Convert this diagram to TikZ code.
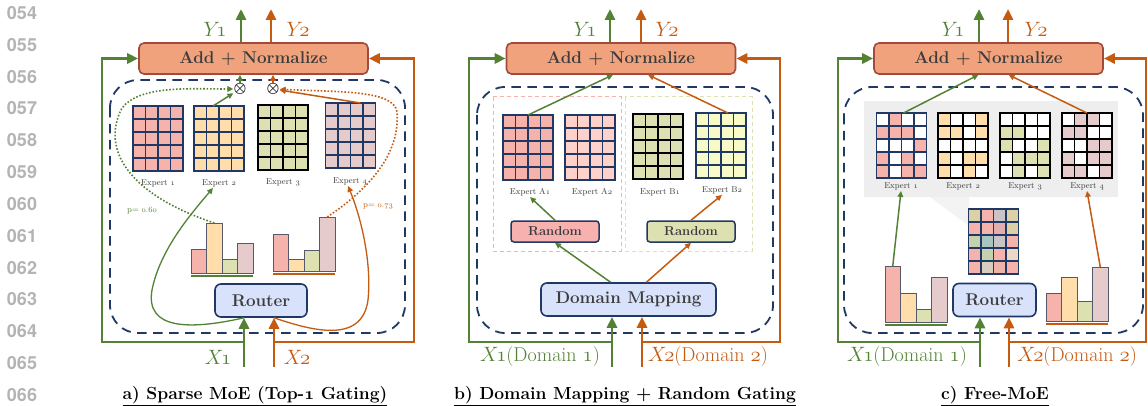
\documentclass[tikz,border=0pt]{standalone}
\usepackage{fontspec}
\usetikzlibrary{arrows.meta}
\newfontfamily\numfont{TeX Gyre Heros}

\definecolor{gr}{HTML}{548235}
\definecolor{og}{HTML}{C55A11}
\definecolor{navy}{HTML}{1F3864}
\definecolor{addfill}{HTML}{F0A27C}
\definecolor{adddraw}{HTML}{A34A3C}
\definecolor{routfill}{HTML}{D9E2FB}
\definecolor{txt}{HTML}{3C3C3C}
\definecolor{lnumgray}{HTML}{B4B4B4}
\definecolor{bargray}{HTML}{55596A}
\definecolor{epink}{HTML}{F5B3AC}
\definecolor{eorange}{HTML}{FFDEAC}
\definecolor{eolive}{HTML}{DDE1B2}
\definecolor{emauve}{HTML}{E6CBCD}
\definecolor{epinklt}{HTML}{FED2CA}
\definecolor{eyellow}{HTML}{F8FBC8}
\definecolor{rndpink}{HTML}{F7B2B0}
\definecolor{panelgray}{HTML}{EEEEEE}
\definecolor{mtan}{HTML}{DCD0A6}
\definecolor{mgray}{HTML}{C9C5C6}
\definecolor{mrose}{HTML}{E2AFAE}
\definecolor{mgreen}{HTML}{C6D2AD}
\definecolor{mteal}{HTML}{A9C3C0}
\definecolor{mbeige}{HTML}{ECD8C6}
\definecolor{mbeigegray}{HTML}{D8CCBE}
\definecolor{msalmon}{HTML}{EEB2A6}

\newcommand{\osf}[1]{$\mathnormal{#1}$}

\tikzset{
  addbox/.style={draw=adddraw, fill=addfill, line width=1.6pt, rounded corners=5pt,
    minimum width=229pt, minimum height=31pt, inner sep=0pt, text=txt,
    font=\fontsize{17}{20}\selectfont\bfseries},
  routerbox/.style={draw=navy, fill=routfill, line width=1.6pt, rounded corners=6pt,
    minimum height=33pt, inner sep=0pt, text=txt, font=\fontsize{17}{20}\selectfont\bfseries},
  randbox/.style={draw=navy, line width=1.5pt, rounded corners=3pt, minimum width=88pt,
    minimum height=21pt, inner sep=0pt, text=txt, font=\fontsize{13}{15}\selectfont\bfseries},
  moebox/.style={draw=navy, line width=1.8pt, dash pattern=on 9.5pt off 6.5pt, rounded corners=28pt},
  expbox/.style={inner sep=0pt, outer sep=0pt, minimum width=50pt, minimum height=65pt},
  explabel/.style={inner sep=1pt, text=txt, font=\fontsize{8.5}{10}\selectfont},
  plabel/.style={inner sep=1pt, font=\fontsize{8.5}{10}\selectfont},
  barbox/.style={draw=bargray, line width=0.9pt, inner sep=0pt, outer sep=0pt, minimum width=15.5pt},
  otimes/.style={inner sep=0pt, font=\fontsize{15}{15}\selectfont\boldmath},
  res/.style={->, >={Triangle[length=11pt, width=10pt]}, line width=2.8pt},
  link/.style={->, >={Triangle[length=6pt, width=5.5pt]}, line width=1.5pt},
  dots/.style={->, >={Triangle[length=6pt, width=5.5pt]}, line width=1.6pt, dash pattern=on 1.6pt off 1.8pt},
  io/.style={inner sep=0pt, font=\fontsize{20}{22}\selectfont},
  title/.style={inner sep=0pt, font=\fontsize{17.5}{20}\selectfont\bfseries},
  lnum/.style={inner sep=0pt, text=lnumgray, font=\numfont\fontsize{18}{20}\selectfont\bfseries}
}

\newcommand{\expgrid}[4]{%
  \node[expbox, fill=#4] (#1) at (#2,#3) {};}
\newcommand{\gridcells}[3]{%
  \foreach \col/\row in {#3}
    \fill[#2] ([xshift={(\col-1)*12.5pt}, yshift={-(\row-1)*13pt}]#1.north west)
      rectangle ([xshift={\col*12.5pt}, yshift={-\row*13pt}]#1.north west);}
\newcommand{\gridlines}[2]{%
  \foreach \i in {1,2,3}
    \draw[#2, line width=1.3pt] ([xshift=\i*12.5pt]#1.north west) -- ([xshift=\i*12.5pt]#1.south west);
  \foreach \j in {1,...,4}
    \draw[#2, line width=1.3pt] ([yshift=-\j*13pt]#1.north west) -- ([yshift=-\j*13pt]#1.north east);
  \draw[#2, line width=1.3pt] (#1.north west) rectangle (#1.south east);}
\newcommand{\barchart}[8]{%
  \node[barbox, fill=epink, minimum height=#4pt, anchor=south west] (#1a) at (#2,#3) {};
  \node[barbox, fill=eorange, minimum height=#5pt, anchor=south west] (#1b) at (#1a.south east) {};
  \node[barbox, fill=eolive, minimum height=#6pt, anchor=south west] (#1c) at (#1b.south east) {};
  \node[barbox, fill=emauve, minimum height=#7pt, anchor=south west] (#1d) at (#1c.south east) {};
  \draw[#8, line width=2.6pt] ([yshift=-3pt]#1a.south west) -- ([yshift=-3pt]#1d.south east);}

\begin{document}
\begin{tikzpicture}[x=1pt, y=-1pt]
  \useasboundingbox[fill=white] (0,0) rectangle (1148,406);

  \foreach \n [count=\k from 0] in {054,055,056,057,058,059,060,061,062,063,064,065,066}
    \node[lnum] (ln\n) at (22,{13+\k*31.83}) {\n};

  % a) sparse MoE
  \node[addbox] (addA) at (253.5,58.5) {Add + Normalize};
  \draw[moebox] (110,80) rectangle (405,333);
  \expgrid{gA1}{158}{138.5}{epink}\gridlines{gA1}{navy}
  \expgrid{gA2}{219}{138.5}{eorange}\gridlines{gA2}{navy}
  \expgrid{gA3}{283}{137.5}{eolive}\gridlines{gA3}{black}
  \expgrid{gA4}{350.5}{135.5}{emauve}\gridlines{gA4}{navy}
  \node[explabel] (lA1) at (158,183) {Expert \osf{1}};
  \node[explabel] (lA2) at (219,183) {Expert \osf{2}};
  \node[explabel] (lA3) at (283,182) {Expert \osf{3}};
  \node[explabel] (lA4) at (350,181) {Expert \osf{4}};
  \node[otimes] (oA1) at (240,89) {$\otimes$};
  \node[otimes] (oA2) at (273,89) {$\otimes$};
  \barchart{bA1}{191}{273}{24}{50}{14}{30}{gr}
  \barchart{bA2}{273}{271}{37}{12}{21}{54}{og}
  \node[routerbox, minimum width=92pt] (routerA) at (261,300.5) {Router};
  \node[plabel, text=gr] (pA1) at (142,211) {p= \osf{0.60}};
  \node[plabel, text=og] (pA2) at (378,206) {p= \osf{0.73}};
  \coordinate (xA1) at (244,367);
  \coordinate (xA2) at (274,367);
  \coordinate (yA1) at (241,9);
  \coordinate (yA2) at (271,9);
  \draw[res, gr] (xA1) -- (xA1 |- routerA.south);
  \draw[res, og] (xA2) -- (xA2 |- routerA.south);
  \draw[res, gr] (xA1) ++(0,-25) -- (102,342) |- (addA.west);
  \draw[res, og] (xA2) ++(0,-25) -- (414,342) |- (addA.east);
  \draw[res, gr] (addA.north -| yA1) -- (yA1);
  \draw[res, og] (addA.north -| yA2) -- (yA2);
  \draw[link, gr] (oA1.north) -- (oA1 |- addA.south);
  \draw[link, og] (oA2.north) -- (oA2 |- addA.south);
  \draw[link, gr] ([xshift=-6pt]gA2.north) -- (oA1);
  \draw[link, og] ([xshift=10pt]gA4.north) -- (oA2);
  \draw[dots, gr] (bA1b.north) .. controls (130,195) and (100,150) .. (122,108)
    .. controls (140,85) and (190,89) .. (oA1);
  \draw[dots, og] (bA2d.north) .. controls (375,185) and (400,150) .. (397,112)
    .. controls (394,90) and (340,92) .. (oA2);
  \draw[link, gr, line width=1.3pt] (routerA.south -| xA1) .. controls (190,330) and (145,330) .. (152,290)
    .. controls (160,250) and (190,215) .. ([xshift=-6pt]lA2.south);
  \draw[link, og, line width=1.3pt] (routerA.south -| xA2) .. controls (310,330) and (362,345) .. (368,300)
    .. controls (372,260) and (360,215) .. ([xshift=-2pt]lA4.south);
  \node[io, text=gr] (tYA1) at (215,29) {$Y\mkern-3mu\mathnormal{1}$};
  \node[io, text=og] (tYA2) at (298,29) {$Y\mkern-3mu\mathnormal{2}$};
  \node[io, text=gr] (tXA1) at (218,357) {$X\mkern-2mu\mathnormal{1}$};
  \node[io, text=og] (tXA2) at (297,357) {$X\mkern-2mu\mathnormal{2}$};
  \node[title] (ttA) at (255,396) {\underline{a) Sparse MoE (Top-{\boldmath\osf{1}} Gating)}};

  % b) domain mapping
  \node[addbox] (addB) at (621,58.5) {Add + Normalize};
  \draw[moebox] (477,87) rectangle (773,333);
  \draw[epink, line width=1pt, dash pattern=on 4pt off 3pt] (493,97) rectangle (621,251);
  \draw[eolive, line width=1pt, dash pattern=on 4pt off 3pt] (625,97) rectangle (752,251);
  \expgrid{gB1}{528}{147.5}{epink}\gridlines{gB1}{navy}
  \expgrid{gB2}{590}{147.5}{epinklt}\gridlines{gB2}{navy}
  \expgrid{gB3}{658}{146.5}{eolive}\gridlines{gB3}{black}
  \expgrid{gB4}{721}{145.5}{eyellow}\gridlines{gB4}{navy}
  \node[explabel] (lB1) at (530,192) {Expert A\osf{1}};
  \node[explabel] (lB2) at (592,192) {Expert A\osf{2}};
  \node[explabel] (lB3) at (660,192) {Expert B\osf{1}};
  \node[explabel] (lB4) at (722,190) {Expert B\osf{2}};
  \node[randbox, fill=rndpink] (rndA) at (555,231.5) {Random};
  \node[randbox, fill=eolive] (rndB) at (691,231.5) {Random};
  \node[routerbox, minimum width=175pt] (mapB) at (628.5,299.5) {Domain Mapping};
  \coordinate (xB1) at (612,367);
  \coordinate (xB2) at (642,367);
  \coordinate (yB1) at (610,9);
  \coordinate (yB2) at (641,9);
  \draw[res, gr] (xB1) -- (xB1 |- mapB.south);
  \draw[res, og] (xB2) -- (xB2 |- mapB.south);
  \draw[res, gr] (xB1) ++(0,-25) -- (469,342) |- (addB.west);
  \draw[res, og] (xB2) ++(0,-25) -- (780,342) |- (addB.east);
  \draw[res, gr] (addB.north -| yB1) -- (yB1);
  \draw[res, og] (addB.north -| yB2) -- (yB2);
  \draw[link, gr] (gB1.north) -- ([xshift=-8pt]addB.south);
  \draw[link, og] ([xshift=7pt]gB4.north) -- ([xshift=27pt]addB.south);
  \draw[link, gr] (rndA.north) -- (lB1.south);
  \draw[link, og] (rndB.north) -- (lB4.south);
  \draw[link, gr] ([xshift=-18pt]mapB.north) -- (rndA.south);
  \draw[link, og] ([xshift=18pt]mapB.north) -- (rndB.south);
  \node[io, text=gr] (tYB1) at (585,29) {$Y\mkern-3mu\mathnormal{1}$};
  \node[io, text=og] (tYB2) at (667,29) {$Y\mkern-3mu\mathnormal{2}$};
  \node[io, text=gr] (tXB1) at (540,357) {$X\mkern-2mu\mathnormal{1}$(Domain \osf{1})};
  \node[io, text=og] (tXB2) at (708,357) {$X\mkern-2mu\mathnormal{2}$(Domain \osf{2})};
  \node[title] (ttB) at (625,396) {\underline{b) Domain Mapping + Random Gating}};

  % c) free MoE
  \node[addbox] (addC) at (988.5,58.5) {Add + Normalize};
  \draw[moebox] (844,87) rectangle (1143,333);
  \fill[panelgray] (864,101) rectangle (1118,197);
  \fill[panelgray!70] (930,197) -- (969,197) -- (969,226) -- cycle;
  \expgrid{gC1}{901.5}{145.5}{white}
  \gridcells{gC1}{epink}{2/1,1/2,2/2,3/2,4/3,1/4,3/4,1/5,3/5,4/5}
  \gridlines{gC1}{navy}
  \expgrid{gC2}{963}{145.5}{white}
  \gridcells{gC2}{eorange}{1/1,4/1,1/2,2/2,4/2,1/4,3/4,4/4,1/5,3/5}
  \gridlines{gC2}{black}
  \expgrid{gC3}{1025}{145.5}{white}
  \gridcells{gC3}{eolive}{1/2,2/2,1/3,4/3,2/4,3/4,4/4,2/5,4/5}
  \gridlines{gC3}{black}
  \expgrid{gC4}{1087}{145.5}{white}
  \gridcells{gC4}{emauve}{2/1,3/1,1/2,2/2,3/3,4/3,1/4,3/4,4/4,1/5,2/5,4/5}
  \gridlines{gC4}{black}
  \node[explabel] (lC1) at (901,186) {Expert \osf{1}};
  \node[explabel] (lC2) at (963,186) {Expert \osf{2}};
  \node[explabel] (lC3) at (1025,186) {Expert \osf{3}};
  \node[explabel] (lC4) at (1087,186) {Expert \osf{4}};
  \expgrid{gMix}{993.5}{241.5}{epink}
  \foreach \col/\row/\clr in {1/1/mtan,3/1/mgray,4/1/mtan,3/2/mrose,4/2/mtan,1/3/mgreen,2/3/mteal,
      3/3/mgray,2/4/mgreen,4/4/mbeige,2/5/mbeigegray,3/5/msalmon}
    \fill[\clr] ([xshift={(\col-1)*12.5pt}, yshift={-(\row-1)*13pt}]gMix.north west)
      rectangle ([xshift={\col*12.5pt}, yshift={-\row*13pt}]gMix.north west);
  \gridlines{gMix}{navy}
  \barchart{bC1}{885}{322}{56}{29}{13}{45}{gr}
  \barchart{bC2}{1046}{321}{28}{44}{20}{54}{og}
  \node[routerbox, minimum width=83pt] (routerC) at (994.5,300) {Router};
  \coordinate (xC1) at (980,367);
  \coordinate (xC2) at (1009,367);
  \coordinate (yC1) at (979,9);
  \coordinate (yC2) at (1008,9);
  \draw[res, gr] (xC1) -- (xC1 |- routerC.south);
  \draw[res, og] (xC2) -- (xC2 |- routerC.south);
  \draw[res, gr] (xC1) ++(0,-25) -- (838,342) |- (addC.west);
  \draw[res, og] (xC2) ++(0,-25) -- (1146,342) |- (addC.east);
  \draw[res, gr] (addC.north -| yC1) -- (yC1);
  \draw[res, og] (addC.north -| yC2) -- (yC2);
  \draw[link, gr] (bC1a.north) -- (lC1.south);
  \draw[link, og] (bC2d.north) -- (lC4.south);
  \draw[link, gr] ([xshift=2pt]gC1.north) -- ([xshift=-10pt]addC.south);
  \draw[link, og] (gC4.north) -- ([xshift=20pt]addC.south);
  \node[io, text=gr] (tYC1) at (953,29) {$Y\mkern-3mu\mathnormal{1}$};
  \node[io, text=og] (tYC2) at (1036,29) {$Y\mkern-3mu\mathnormal{2}$};
  \node[io, text=gr] (tXC1) at (907,357) {$X\mkern-2mu\mathnormal{1}$(Domain \osf{1})};
  \node[io, text=og] (tXC2) at (1077,357) {$X\mkern-2mu\mathnormal{2}$(Domain \osf{2})};
  \node[title] (ttC) at (995,396) {\underline{c) Free-MoE}};
\end{tikzpicture}
\end{document}
